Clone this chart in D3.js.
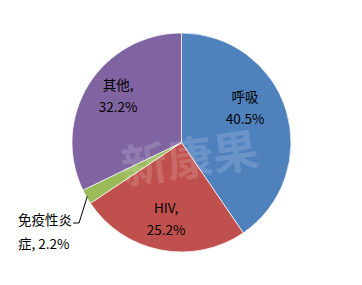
<!DOCTYPE html>
<html>
<head>
<meta charset="utf-8">
<script src="https://cdn.jsdelivr.net/npm/d3@7"></script>
<style>
  body { margin: 0; background: #fff; }
  svg { display: block; font-family: "Microsoft YaHei", "Noto Sans CJK SC", sans-serif; }
</style>
</head>
<body>
<div id="chart"></div>
<script>
const categories = ["呼吸", "HIV", "免疫性炎症", "其他"];
const values = [40.5, 25.2, 2.2, 32.2];
const labelLines = [["呼吸", "40.5%"], ["HIV,", "25.2%"], ["免疫性炎", "症, 2.2%"], ["其他,", "32.2%"]];

const width = 362, height = 285,
    cx = 181.5, cy = 142.5, radius = 109.5;

const color = d3.scaleOrdinal()
    .domain(categories)
    .range(["#4f81bd", "#c0504d", "#9bbb59", "#8064a2"]);

const svg = d3.select("#chart").append("svg")
    .attr("width", width)
    .attr("height", height);

const pie = d3.pie().sort(null).value(d => d.value);
const arc = d3.arc().innerRadius(0).outerRadius(radius);
const labelArc = d3.arc().innerRadius(76).outerRadius(76);
const edgeArc = d3.arc().innerRadius(radius - 1).outerRadius(radius - 1);

const data = categories.map((c, i) => ({ name: c, value: values[i], lines: labelLines[i] }));
const arcs = pie(data);

const g = svg.append("g").attr("transform", `translate(${cx},${cy})`);

g.selectAll("path")
    .data(arcs)
  .enter().append("path")
    .attr("d", arc)
    .attr("fill", d => color(d.data.name))
    .attr("stroke", "#fff")
    .attr("stroke-width", 0.7);

// faint watermark
svg.append("text")
    .attr("transform", "translate(192,175) rotate(-8)")
    .attr("text-anchor", "middle")
    .attr("font-size", 46)
    .attr("font-weight", "bold")
    .attr("fill", "#fff")
    .attr("fill-opacity", 0.16)
    .text("新康果");

// nudges to match the label placement of the original
const nudge = { "呼吸": [-9, -12], "HIV": [-1, 2], "其他": [1, -6] };

arcs.forEach(d => {
    const name = d.data.name;
    if (name === "免疫性炎症") {
        const p = edgeArc.centroid(d);
        g.append("polyline")
            .attr("points", [[p[0], p[1]], [79 - cx, 223 - cy], [73 - cx, 223 - cy]].map(q => q.join(",")).join(" "))
            .attr("fill", "none")
            .attr("stroke", "#000")
            .attr("stroke-width", 1);
        const t = svg.append("text")
            .attr("font-size", 13.5)
            .attr("fill", "#000");
        d.data.lines.forEach((s, i) => {
            t.append("tspan").attr("x", 18).attr("y", 225 + i * 24).text(s);
        });
        return;
    }
    const c = labelArc.centroid(d);
    const n = nudge[name] || [0, 0];
    const x = c[0] + n[0], y = c[1] + n[1];
    const t = g.append("text")
        .attr("text-anchor", "middle")
        .attr("font-size", 13.5)
        .attr("fill", "#000");
    d.data.lines.forEach((s, i) => {
        t.append("tspan").attr("x", x).attr("y", y - 6 + i * 22).text(s);
    });
});
</script>
</body>
</html>
